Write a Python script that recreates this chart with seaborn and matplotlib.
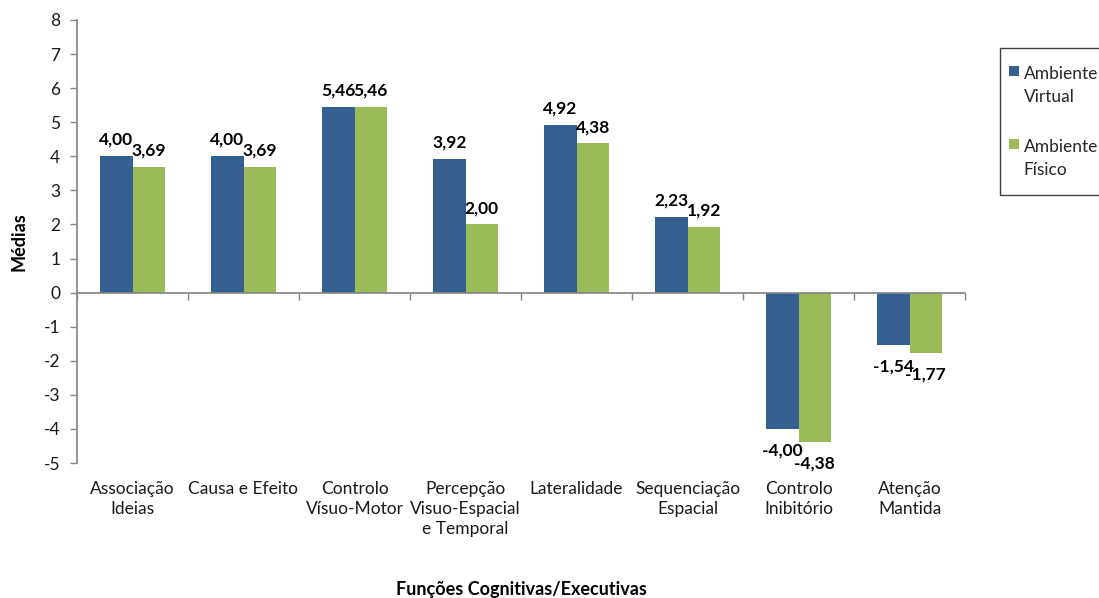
import matplotlib
matplotlib.use("Agg")
import matplotlib.pyplot as plt
import seaborn as sns
import pandas as pd
import numpy as np
from matplotlib.patches import Patch, Rectangle
from matplotlib.legend_handler import HandlerPatch

categories = ["Associação\nIdeias", "Causa e Efeito", "Controlo\nVísuo-Motor",
              "Percepção\nVisuo-Espacial\ne Temporal", "Lateralidade",
              "Sequenciação\nEspacial", "Controlo\nInibitório", "Atenção\nMantida"]
virtual = [4.00, 4.00, 5.46, 3.92, 4.92, 2.23, -4.00, -1.54]
fisico = [3.69, 3.69, 5.46, 2.00, 4.38, 1.92, -4.38, -1.77]
series = ["Ambiente\nVirtual", "Ambiente\nFísico"]
yticks = list(range(-5, 9))

sns.set_theme(style="white")
plt.rcParams['font.family'] = ['Lato', 'DejaVu Sans']

df = pd.DataFrame({
    "cat": categories * 2,
    "serie": [series[0]] * len(categories) + [series[1]] * len(categories),
    "val": virtual + fisico,
})

fig = plt.figure(figsize=(10.99, 5.98), dpi=100)
ax = fig.add_axes([77/1099, 1-463/598, (965-77)/1099, (463-20)/598])

palette = {series[0]: "#365F91", series[1]: "#9BBB59"}
sns.barplot(data=df, x="cat", y="val", hue="serie", palette=palette,
            width=0.585, ax=ax, saturation=1, legend=False, linewidth=0, edgecolor="none")

for cont in ax.containers:
    pos = [f"{b.get_height():.2f}".replace(".", ",") if b.get_height() >= 0 else "" for b in cont]
    neg = [f"{b.get_height():.2f}".replace(".", ",") if b.get_height() < 0 else "" for b in cont]
    ax.bar_label(cont, labels=pos, padding=6, fontsize=12.5, fontweight="bold", color="black")
    ax.bar_label(cont, labels=neg, padding=10, fontsize=12.5, fontweight="bold", color="black")

ax.set_xlim(-0.5, len(categories) - 0.5)
ax.set_ylim(-5, 8)
ax.set_yticks(yticks)
ax.set_yticklabels([str(t) for t in yticks])
ax.tick_params(axis="y", direction="out", length=5, color="#868686", width=1,
               labelsize=12.5, labelcolor="#1a1a1a", left=True, pad=7)

for s in ["top", "right"]:
    ax.spines[s].set_visible(False)
ax.spines["left"].set_color("#868686")
ax.spines["bottom"].set_color("#868686")
ax.spines["bottom"].set_position(("data", 0))

ax.set_xticks(np.arange(len(categories)))
ax.tick_params(axis="x", which="major", length=0, labelbottom=False)
ax.set_xticks(np.arange(len(categories) + 1) - 0.5, minor=True)
ax.tick_params(axis="x", which="minor", direction="out", length=5, color="#868686", width=1, bottom=True)

sec = ax.secondary_xaxis("bottom")
sec.set_xticks(np.arange(len(categories)))
sec.set_xticklabels(categories, linespacing=1.3)
sec.tick_params(length=0, labelsize=12.5, labelcolor="#1a1a1a", pad=13)
sec.spines["bottom"].set_visible(False)

ax.set_xlabel("")
ax.set_ylabel("Médias", fontsize=13, fontweight="bold", labelpad=12, color="black")
fig.text(521/1099, 1-590/598, "Funções Cognitivas/Executivas", ha="center", va="center",
         fontsize=13, fontweight="bold", color="black")


def make_handle(legend, orig_handle, xdescent, ydescent, width, height, fontsize):
    return Rectangle((-xdescent, -ydescent + 0.85 * fontsize), width, height)


# legend frame (Excel style, running past the right edge)
fig.patches.append(Rectangle((1000/1099, 1-195/598), 120/1099, 147/598, transform=fig.transFigure,
                             facecolor="white", edgecolor="#404040", linewidth=1, zorder=1))

handles = [Patch(facecolor=palette[s], edgecolor="none") for s in series]
leg = fig.legend(handles, series, loc="upper left", bbox_to_anchor=(1009/1099, 1-66/598),
                 fontsize=12.5, frameon=False, handlelength=0.55, handleheight=0.55,
                 handletextpad=0.3, labelspacing=2.0, borderpad=0, borderaxespad=0,
                 handler_map={Patch: HandlerPatch(patch_func=make_handle)})
for t in leg.get_texts():
    t.set_linespacing(1.5)
leg.set_zorder(2)

fig.savefig("out.png", dpi=100)
